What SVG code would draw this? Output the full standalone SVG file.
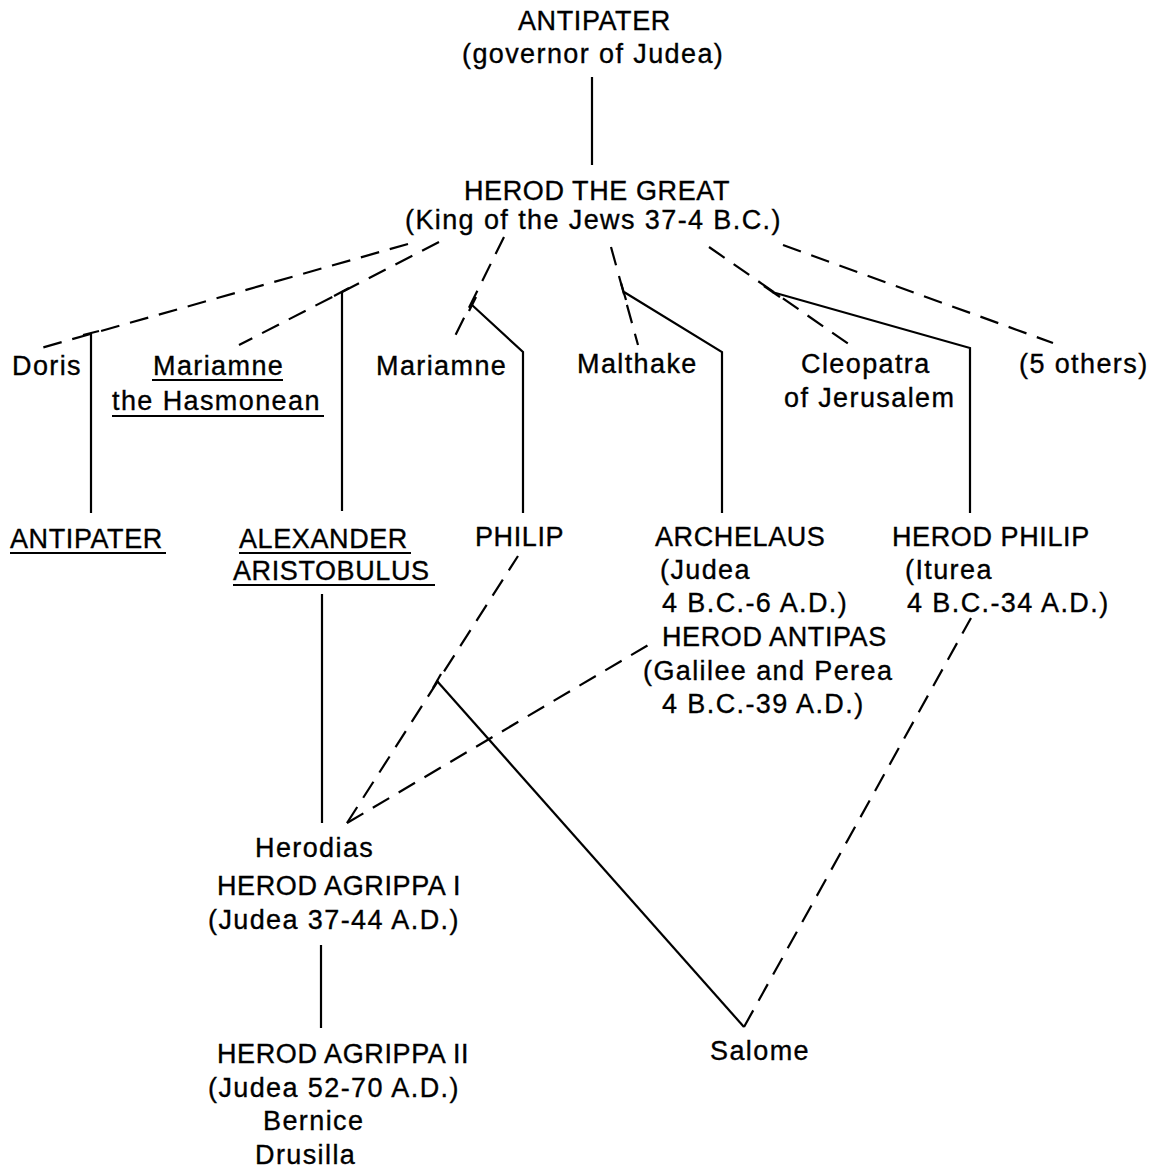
<svg xmlns="http://www.w3.org/2000/svg" width="1152" height="1171" viewBox="0 0 1152 1171">
<style>
text { font-family: "Liberation Sans", Arial, Helvetica, sans-serif; font-size: 27px; fill: #000; stroke: #000; stroke-width: 0.35px; }
.m { letter-spacing: 1.4px; }
.c { letter-spacing: 0.6px; }
.s { stroke: #000; stroke-width: 2.2; fill: none; stroke-linejoin: miter; }
.d { stroke: #000; stroke-width: 2.2; fill: none; stroke-dasharray: 19 11; }
.u { stroke: #000; stroke-width: 1.8; }
</style>
<rect width="1152" height="1171" fill="#fff"/>

<g id="connectors">
  <!-- solid descent lines -->
  <line class="s" x1="592" y1="77" x2="592" y2="165"/>
  <line class="s" x1="91" y1="333" x2="91" y2="513"/>
  <line class="s" x1="342" y1="292" x2="342" y2="511"/>
  <polyline class="s" points="472,305 523,352 523,513"/>
  <polyline class="s" points="624,292 722,352 722,513"/>
  <polyline class="s" points="772,292 970,348 970,513"/>
  <line class="s" x1="322" y1="594" x2="322" y2="823"/>
  <line class="s" x1="321" y1="945" x2="321" y2="1028"/>
  <line class="s" x1="437" y1="681" x2="744" y2="1027"/>
  <!-- junction ticks -->
  <line class="s" x1="99" y1="331" x2="83" y2="335"/>
  <line class="s" x1="349" y1="288" x2="334" y2="296"/>
  <line class="s" x1="476" y1="297" x2="469" y2="311"/>
  <line class="s" x1="621" y1="283" x2="626" y2="300"/>
  <line class="s" x1="764" y1="286" x2="780" y2="297"/>
  <line class="s" x1="441" y1="674" x2="433" y2="688"/>
  <!-- dashed marriage lines -->
  <line class="d" x1="408" y1="244" x2="34" y2="350"/>
  <line class="d" x1="439" y1="242" x2="239" y2="345"/>
  <line class="d" x1="504" y1="237" x2="454" y2="338"/>
  <line class="d" x1="611" y1="247" x2="638" y2="345"/>
  <line class="d" x1="709" y1="247" x2="850" y2="345"/>
  <line class="d" x1="783" y1="245" x2="1053" y2="343"/>
  <line class="d" x1="347" y1="823" x2="518" y2="556"/>
  <line class="d" x1="347" y1="823" x2="655" y2="641"/>
  <line class="d" x1="744" y1="1027" x2="971" y2="618"/>
</g>

<g id="antipater-top">
  <text class="c" x="518" y="30">ANTIPATER</text>
  <text class="m" x="462" y="63">(governor of Judea)</text>
</g>
<g id="herod-the-great">
  <text class="c" x="464" y="200">HEROD THE GREAT</text>
  <text class="m" x="405" y="229">(King of the Jews 37-4 B.C.)</text>
</g>
<g id="doris">
  <text class="m" x="12" y="375">Doris</text>
</g>
<g id="mariamne-hasmonean">
  <text class="m" x="153" y="375">Mariamne</text>
  <line class="u" x1="152" y1="380" x2="283" y2="380"/>
  <text class="m" x="112" y="410">the Hasmonean</text>
  <line class="u" x1="112" y1="416" x2="324" y2="416"/>
</g>
<g id="mariamne">
  <text class="m" x="376" y="375">Mariamne</text>
</g>
<g id="malthake">
  <text class="m" x="577" y="373">Malthake</text>
</g>
<g id="cleopatra">
  <text class="m" x="801" y="373">Cleopatra</text>
  <text class="m" x="784" y="407">of Jerusalem</text>
</g>
<g id="others">
  <text class="m" x="1019" y="373">(5 others)</text>
</g>
<g id="antipater-son">
  <text class="c" x="10" y="548">ANTIPATER</text>
  <line class="u" x1="10" y1="553" x2="166" y2="553"/>
</g>
<g id="alexander-aristobulus">
  <text class="c" x="239" y="548">ALEXANDER</text>
  <line class="u" x1="239" y1="553" x2="411" y2="553"/>
  <text class="c" x="233" y="580">ARISTOBULUS</text>
  <line class="u" x1="233" y1="585" x2="435" y2="585"/>
</g>
<g id="philip">
  <text class="c" x="475" y="546">PHILIP</text>
</g>
<g id="archelaus-antipas">
  <text class="c" x="655" y="546">ARCHELAUS</text>
  <text class="m" x="660" y="579">(Judea</text>
  <text class="m" x="662" y="612">4 B.C.-6 A.D.)</text>
  <text class="c" x="662" y="646">HEROD ANTIPAS</text>
  <text class="m" x="643" y="680">(Galilee and Perea</text>
  <text class="m" x="662" y="713">4 B.C.-39 A.D.)</text>
</g>
<g id="herod-philip">
  <text class="c" x="892" y="546">HEROD PHILIP</text>
  <text class="m" x="905" y="579">(Iturea</text>
  <text class="m" x="907" y="612">4 B.C.-34 A.D.)</text>
</g>
<g id="herodias-agrippa1">
  <text class="m" x="255" y="857">Herodias</text>
  <text class="c" x="217" y="895">HEROD AGRIPPA I</text>
  <text class="m" x="208" y="929">(Judea 37-44 A.D.)</text>
</g>
<g id="agrippa2">
  <text class="c" x="217" y="1063">HEROD AGRIPPA II</text>
  <text class="m" x="208" y="1097">(Judea 52-70 A.D.)</text>
  <text class="m" x="263" y="1130">Bernice</text>
  <text class="m" x="255" y="1164">Drusilla</text>
</g>
<g id="salome">
  <text class="m" x="710" y="1060">Salome</text>
</g>
</svg>
